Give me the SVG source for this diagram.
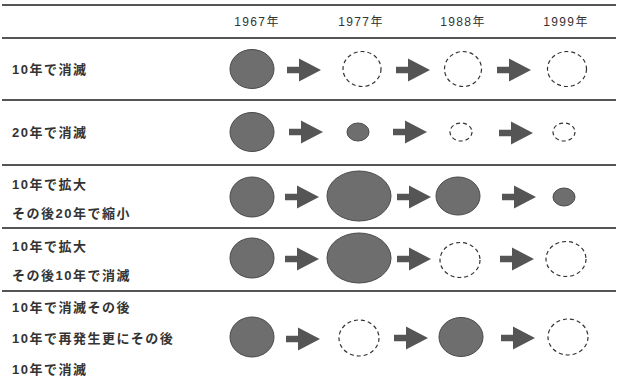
<svg xmlns="http://www.w3.org/2000/svg" xmlns:xlink="http://www.w3.org/1999/xlink" width="619" height="381" viewBox="0 0 619 381">
<style>
.bg{fill:#ffffff}
.rule{stroke:#555555;stroke-width:1.8;fill:none}
.hdr{font-family:"Liberation Sans","Noto Sans CJK JP",sans-serif;font-size:12px;fill:#333333;letter-spacing:1.4px;text-anchor:middle}
.lbl{font-family:"Liberation Sans","Noto Sans CJK JP",sans-serif;font-size:13px;font-weight:bold;fill:#333333;letter-spacing:1.5px}
.on{fill:#6e6e6e;stroke:#4a4a4a;stroke-width:1}
.off{fill:#ffffff;stroke:#333333;stroke-width:1.2;stroke-dasharray:4 3}
.arr{fill:#555555}
</style>
<defs>
<path id="arrow" class="arr" d="M0,-3.2 L12,-3.2 L12,-11.5 L34,0 L12,11.5 L12,3.2 L0,3.2 Z"/>
</defs>
<rect class="bg" x="0" y="0" width="619" height="381"/>
<g id="grid">
<line class="rule" x1="2" y1="5" x2="616" y2="5"/>
<line class="rule" x1="2" y1="38" x2="616" y2="38"/>
<line class="rule" x1="2" y1="100" x2="616" y2="100"/>
<line class="rule" x1="2" y1="165" x2="616" y2="165"/>
<line class="rule" x1="2" y1="228" x2="616" y2="228"/>
<line class="rule" x1="2" y1="291" x2="616" y2="291"/>
</g>
<g id="header">
<text class="hdr" x="257" y="26">1967年</text>
<text class="hdr" x="361" y="26">1977年</text>
<text class="hdr" x="463" y="26">1988年</text>
<text class="hdr" x="566" y="26">1999年</text>
</g>
<g id="labels">
<text class="lbl" x="12" y="74">10年で消滅</text>
<text class="lbl" x="12" y="137">20年で消滅</text>
<text class="lbl" x="12" y="189">10年で拡大</text>
<text class="lbl" x="12" y="218">その後20年で縮小</text>
<text class="lbl" x="12" y="251">10年で拡大</text>
<text class="lbl" x="12" y="280">その後10年で消滅</text>
<text class="lbl" x="12" y="312">10年で消滅その後</text>
<text class="lbl" x="12" y="343">10年で再発生更にその後</text>
<text class="lbl" x="12" y="374">10年で消滅</text>
</g>
<g id="row1">
<ellipse id="r1-1967" class="on" cx="252" cy="69" rx="22" ry="19.5"/>
<ellipse id="r1-1977" class="off" cx="362" cy="69" rx="19" ry="17.5"/>
<ellipse id="r1-1988" class="off" cx="463" cy="69" rx="18.5" ry="17.5"/>
<ellipse id="r1-1999" class="off" cx="567" cy="69" rx="19.5" ry="17.5"/>
</g>
<g id="row2">
<ellipse id="r2-1967" class="on" cx="252" cy="132" rx="22" ry="19.5"/>
<ellipse id="r2-1977" class="on" cx="358" cy="132" rx="11" ry="9"/>
<ellipse id="r2-1988" class="off" cx="461" cy="132" rx="11" ry="9"/>
<ellipse id="r2-1999" class="off" cx="564" cy="132" rx="11" ry="9"/>
</g>
<g id="row3">
<ellipse id="r3-1967" class="on" cx="252" cy="197" rx="22" ry="20"/>
<ellipse id="r3-1977" class="on" cx="359" cy="196" rx="32" ry="25"/>
<ellipse id="r3-1988" class="on" cx="458" cy="196" rx="22" ry="19"/>
<ellipse id="r3-1999" class="on" cx="564" cy="197" rx="11" ry="9"/>
</g>
<g id="row4">
<ellipse id="r4-1967" class="on" cx="252" cy="258" rx="22" ry="20"/>
<ellipse id="r4-1977" class="on" cx="359" cy="258" rx="32" ry="25"/>
<ellipse id="r4-1988" class="off" cx="460" cy="260" rx="20" ry="17.5"/>
<ellipse id="r4-1999" class="off" cx="566" cy="259" rx="20" ry="17.5"/>
</g>
<g id="row5">
<ellipse id="r5-1967" class="on" cx="252" cy="337" rx="22" ry="20"/>
<ellipse id="r5-1977" class="off" cx="359" cy="338" rx="20" ry="18"/>
<ellipse id="r5-1988" class="on" cx="461" cy="337" rx="22" ry="19.5"/>
<ellipse id="r5-1999" class="off" cx="568" cy="337" rx="20" ry="18"/>
</g>
<g id="connectors">
<use xlink:href="#arrow" x="287" y="70"/>
<use xlink:href="#arrow" x="396" y="70"/>
<use xlink:href="#arrow" x="497" y="70"/>
<use xlink:href="#arrow" x="289" y="132"/>
<use xlink:href="#arrow" x="393" y="132"/>
<use xlink:href="#arrow" x="499" y="133"/>
<use xlink:href="#arrow" x="285" y="197"/>
<use xlink:href="#arrow" x="397" y="197"/>
<use xlink:href="#arrow" x="502" y="197"/>
<use xlink:href="#arrow" x="285" y="259"/>
<use xlink:href="#arrow" x="397" y="259"/>
<use xlink:href="#arrow" x="500" y="259"/>
<use xlink:href="#arrow" x="286" y="339"/>
<use xlink:href="#arrow" x="394" y="338"/>
<use xlink:href="#arrow" x="501" y="338"/>
</g>
</svg>
